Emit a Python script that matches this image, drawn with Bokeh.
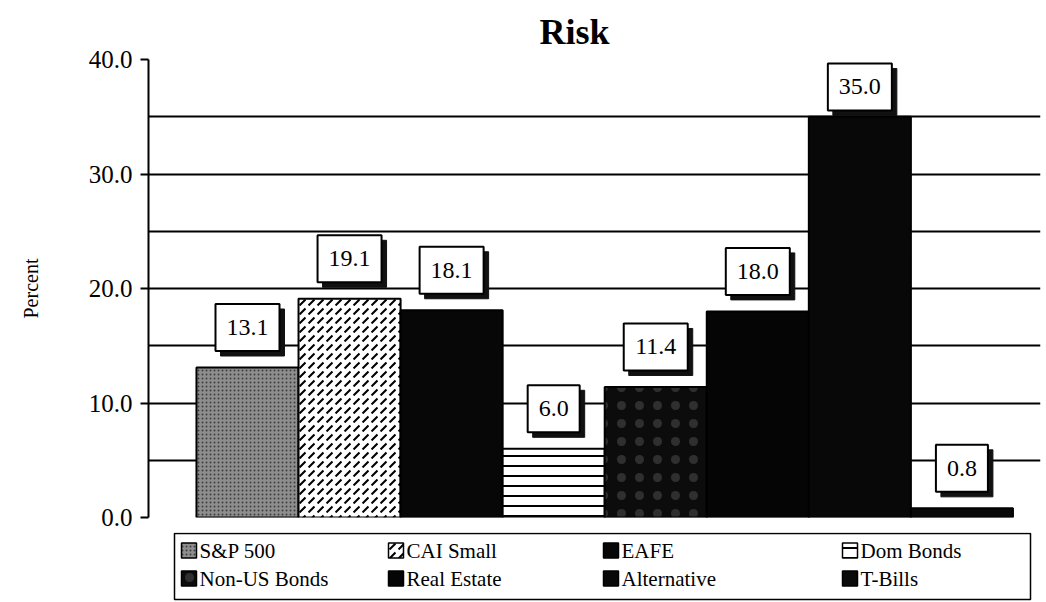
from bokeh.plotting import figure
from bokeh.layouts import column
from bokeh.models import (ColumnDataSource, FixedTicker, PrintfTickFormatter,
                          Range1d)
from bokeh.core.properties import value
from bokeh.embed import file_html
from bokeh.resources import INLINE

# Annualised risk (standard deviation, percent) by asset class
categories = ["S&P 500", "CAI Small", "EAFE", "Dom Bonds",
              "Non-US Bonds", "Real Estate", "Alternative", "T-Bills"]
risk = [13.1, 19.1, 18.1, 6.0, 11.4, 18.0, 35.0, 0.8]
y_ticks = [0, 10, 20, 30, 40]
grid_ticks = [0, 5, 10, 15, 20, 25, 30, 35, 40]

SERIF = "Liberation Serif"

# fill / texture for each bar
styles = [
    dict(fill_color="#8e8e8e", hatch_pattern="dot", hatch_color="#2a2a2a",
         hatch_scale=4, hatch_weight=1.5, hatch_alpha=0.8),
    dict(fill_color="white", hatch_pattern="right_diagonal_dash",
         hatch_color="black", hatch_scale=9, hatch_weight=2),
    dict(fill_color="#070707"),
    dict(fill_color="white", hatch_pattern="horizontal_line",
         hatch_color="black", hatch_scale=10, hatch_weight=2),
    dict(fill_color="#0c0c0c", hatch_pattern="dot", hatch_color="#999999",
         hatch_scale=18, hatch_weight=1, hatch_alpha=0.25),
    dict(fill_color="#050505"),
    dict(fill_color="#080808"),
    dict(fill_color="#0a0a0a"),
]

W = 1046
MAIN_H, LEG_H = 532, 70
B_LEFT, B_RIGHT, B_TOP, B_BOTTOM = 148, 6, 59, 15
x0, x1 = -0.97, 7.77
y0, y1 = 0, 40

p = figure(width=W, height=MAIN_H, x_range=Range1d(x0, x1),
           y_range=Range1d(y0, y1), x_axis_location=None,
           output_backend="svg", toolbar_location=None,
           min_border_left=B_LEFT, min_border_right=B_RIGHT,
           min_border_top=B_TOP, min_border_bottom=B_BOTTOM,
           title="Risk")
p.outline_line_color = None
p.background_fill_color = "white"

p.title.align = "left"
p.title.offset = 391
p.title.standoff = 15
p.title.text_font = SERIF
p.title.text_font_size = "36px"
p.title.text_font_style = "bold"
p.title.text_color = "black"

p.xgrid.visible = False
p.ygrid.ticker = FixedTicker(ticks=grid_ticks)
p.ygrid.grid_line_color = "black"
p.ygrid.grid_line_width = 2
p.ygrid.grid_line_alpha = 1

ax = p.yaxis[0]
ax.ticker = FixedTicker(ticks=y_ticks)
ax.formatter = PrintfTickFormatter(format="%.1f")
ax.axis_line_width = 2
ax.axis_line_color = "black"
ax.major_tick_line_width = 2
ax.major_tick_out = 8
ax.major_tick_in = 0
ax.minor_tick_line_color = None
ax.major_label_standoff = 8
ax.major_label_text_font = SERIF
ax.major_label_text_font_size = "25px"
ax.major_label_text_color = "black"
ax.axis_label = "Percent"
ax.axis_label_text_font = SERIF
ax.axis_label_text_font_size = "20px"
ax.axis_label_text_font_style = "normal"
ax.axis_label_text_color = "black"
ax.axis_label_standoff = 44

for i, (v, st) in enumerate(zip(risk, styles)):
    src = ColumnDataSource(dict(x=[i], top=[v]))
    p.vbar(x="x", top="top", bottom=0, width=1.0, source=src,
           line_color="black", line_width=2, **st)

# value callouts: white boxes with a drop shadow above each bar
px_x = (W - B_LEFT - B_RIGHT) / (x1 - x0)
px_y = (MAIN_H - B_TOP - B_BOTTOM) / (y1 - y0)
box_h, shadow = 47, 5
txt = [f"{v:.1f}" for v in risk]
box_w = [12 * len(t) + 16 for t in txt]
label_y = [min(v + 40 / px_y, y1 - 2.4) for v in risk]
lab = ColumnDataSource(dict(
    x=list(range(len(risk))), y=label_y, w=box_w,
    sx=[i + shadow / px_x for i in range(len(risk))],
    sy=[y - shadow / px_y for y in label_y],
    txt=txt))
p.rect(x="sx", y="sy", width="w", height=box_h, width_units="screen",
       height_units="screen", source=lab, fill_color="#111111",
       line_color="#111111")
p.rect(x="x", y="y", width="w", height=box_h, width_units="screen",
       height_units="screen", source=lab, fill_color="white",
       line_color="black", line_width=2)
p.text(x="x", y="y", text="txt", source=lab, text_align="center",
       text_baseline="middle", text_font=value(SERIF), text_font_size="24px",
       text_color="black")

# legend strip: a pixel-space panel under the chart, 4 columns x 2 rows
leg = figure(width=W, height=LEG_H, x_range=Range1d(B_LEFT, W - B_RIGHT),
             y_range=Range1d(LEG_H, 0), output_backend="svg",
             toolbar_location=None, x_axis_location=None,
             y_axis_location=None, min_border=0,
             min_border_left=B_LEFT, min_border_right=B_RIGHT)
leg.outline_line_color = None
leg.xgrid.visible = False
leg.ygrid.visible = False

box_l, box_r, box_t, box_b = 174, 1030, 1, 67
leg.quad(left=[box_l], right=[box_r], top=[box_t], bottom=[box_b],
         fill_color="white", line_color="black", line_width=1.5)

col_x = [181, 388, 603, 842]
row_y = [18, 46]
icon = 15
for i, (cat, st) in enumerate(zip(categories, styles)):
    cx = col_x[i % 4]
    cy = row_y[i // 4]
    leg.rect(x=[cx + icon / 2], y=[cy], width=icon, height=icon,
             line_color="black", line_width=1.5, **st)
    leg.text(x=[cx + icon + 3], y=[cy], text=[cat], text_align="left",
             text_baseline="middle", text_font=value(SERIF),
             text_font_size="21px", text_color="black")

layout = column(p, leg, spacing=0)
open("out.html", "w").write(file_html(layout, INLINE))
